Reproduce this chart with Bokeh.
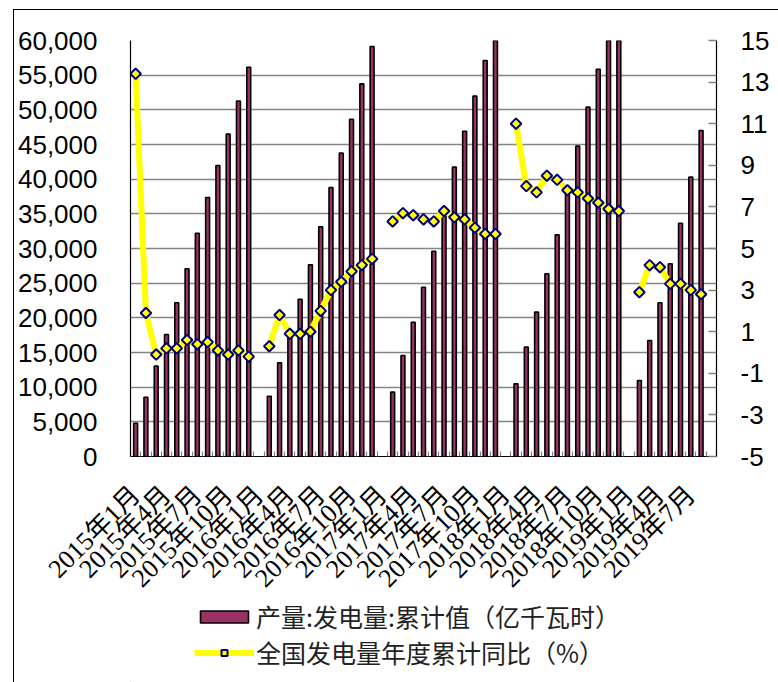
import math
from bokeh.plotting import figure
from bokeh.layouts import column
from bokeh.models import (Range1d, LinearAxis, FixedTicker, Legend, LegendItem,
                          ColumnDataSource, NumeralTickFormatter)
from bokeh.embed import file_html
from bokeh.resources import INLINE

nan = float("nan")

# Categories: monthly, 2015-01 .. 2019-09
months = [f"{y}年{m}月" for y in range(2015, 2020) for m in range(1, 13)][:57]

# 产量:发电量:累计值（亿千瓦时）
output_2015 = [4800, 8550, 13030, 17600, 22170, 27070, 32210, 37360, 41970, 46490, 51250, 56150]
output_2016 = [nan, 8700, 13510, 18000, 22690, 27640, 33120, 38800, 43750, 48650, 53750, 59130]
output_2017 = [nan, 9280, 14570, 19370, 24420, 29610, 35500, 41730, 46920, 51970, 57120, 64200]
output_2018 = [nan, 10480, 15770, 20820, 26350, 31970, 38000, 44760, 50390, 55860, 61600, 67900]
output_2019 = [nan, 10960, 16730, 22170, 27790, 33650, 40290, 47020, nan]

# 全国发电量年度累计同比（%）
growth_2015 = [13.4, 1.9, -0.1, 0.2, 0.2, 0.6, 0.4, 0.5, 0.1, -0.1, 0.1, -0.2]
growth_2016 = [nan, 0.3, 1.8, 0.9, 0.9, 1.0, 2.0, 3.0, 3.4, 3.9, 4.2, 4.5]
growth_2017 = [nan, 6.3, 6.7, 6.6, 6.4, 6.3, 6.8, 6.5, 6.4, 6.0, 5.7, 5.7]
growth_2018 = [nan, 11.0, 8.0, 7.7, 8.5, 8.3, 7.8, 7.7, 7.4, 7.2, 6.9, 6.8]
growth_2019 = [nan, 2.9, 4.2, 4.1, 3.3, 3.3, 3.0, 2.8, nan]

left_ticks = list(range(0, 60001, 5000))
right_ticks = list(range(-5, 16, 2))
label_ticks = list(range(0, 55, 3))

output = output_2015 + output_2016 + output_2017 + output_2018 + output_2019
growth = growth_2015 + growth_2016 + growth_2017 + growth_2018 + growth_2019
xs = list(range(len(months)))

src = ColumnDataSource(dict(x=xs, out=output, g=growth))

FONT_AX = "Liberation Sans, Arial, sans-serif"
FONT_CAT = "Liberation Serif, Noto Sans CJK SC, serif"
FONT_LEG = "Noto Sans CJK SC, sans-serif"

BAR_STYLE = dict(fill_color="#993366", line_color="black", line_width=1.6)
LINE_STYLE = dict(line_color="#FFFF00", line_width=6)
MARK_STYLE = dict(marker="square", angle=math.pi / 4, size=7.5, fill_color="#FFFF00",
                  line_color="#000080", line_width=2)

p = figure(width=764, height=600, output_backend="svg", toolbar_location=None,
           x_range=Range1d(-0.5, len(months) - 0.5), y_range=Range1d(0, 60000),
           x_axis_location=None, y_axis_location=None,
           min_border_left=115, min_border_right=62, min_border_top=30,
           min_border_bottom=154)
p.outline_line_color = None
p.background_fill_color = "white"
p.border_fill_color = "white"
p.extra_y_ranges = {"pct": Range1d(-5, 15)}

# grid
p.xgrid.visible = False
p.ygrid.ticker = FixedTicker(ticks=left_ticks)
p.ygrid.grid_line_color = "#858585"
p.ygrid.grid_line_width = 1.6

# left axis
ya = LinearAxis(ticker=FixedTicker(ticks=left_ticks),
                formatter=NumeralTickFormatter(format="0,0"))
ya.major_tick_in = 0
ya.major_tick_out = 0
ya.minor_tick_in = 0
ya.minor_tick_out = 0
ya.axis_line_color = "black"
ya.axis_line_width = 1.2
ya.major_label_text_font = FONT_AX
ya.major_label_text_font_size = "26px"
ya.major_label_text_color = "black"
ya.major_label_standoff = 33
p.add_layout(ya, "left")

# right axis
ra = LinearAxis(y_range_name="pct", ticker=FixedTicker(ticks=right_ticks))
ra.major_label_overrides = {t: str(t) for t in right_ticks}
ra.major_tick_in = 8
ra.major_tick_out = 0
ra.major_tick_line_color = "#808080"
ra.major_tick_line_width = 1.5
ra.axis_line_color = "black"
ra.axis_line_width = 1.2
ra.major_label_text_font = FONT_AX
ra.major_label_text_font_size = "26px"
ra.major_label_text_color = "black"
ra.major_label_standoff = 24
p.add_layout(ra, "right")

# bottom axis
xa = LinearAxis(ticker=FixedTicker(ticks=label_ticks,
                                   minor_ticks=[i - 0.5 for i in range(len(months) + 1)]))
xa.major_label_overrides = {i: months[i] for i in label_ticks}
xa.major_label_orientation = math.pi / 4
xa.major_tick_in = 0
xa.major_tick_out = 0
xa.minor_tick_in = 5
xa.minor_tick_out = 0
xa.minor_tick_line_color = "#808080"
xa.minor_tick_line_width = 1.2
xa.axis_line_color = "black"
xa.axis_line_width = 1.2
xa.major_label_text_font = FONT_CAT
xa.major_label_text_font_size = "26px"
xa.major_label_text_color = "black"
xa.major_label_standoff = 34
p.add_layout(xa, "below")

p.vbar(x="x", top="out", width=0.38, source=src, **BAR_STYLE)
p.line(x="x", y="g", source=src, y_range_name="pct", **LINE_STYLE)
p.scatter(x="x", y="g", source=src, y_range_name="pct", **MARK_STYLE)

# legend panel (separate figure below the chart); its glyphs sit outside the view
lf = figure(width=764, height=88, output_backend="svg", toolbar_location=None,
            x_range=Range1d(0, 1), y_range=Range1d(0, 1),
            x_axis_location=None, y_axis_location=None,
            min_border_left=0, min_border_right=0, min_border_top=0, min_border_bottom=0)
lf.margin = (-16, 0, 0, 0)
lf.outline_line_color = None
lf.background_fill_alpha = 0
lf.border_fill_alpha = 0
lf.xgrid.visible = False
lf.ygrid.visible = False
dummy = ColumnDataSource(dict(x=[-10.0], y=[-10.0]))
lb = lf.vbar(x="x", top="y", width=0.1, source=dummy, **BAR_STYLE)
ll = lf.line(x="x", y="y", source=dummy, **LINE_STYLE)
lm = lf.scatter(x="x", y="y", source=dummy, **MARK_STYLE)

legend = Legend(items=[
    LegendItem(label="产量:发电量:累计值（亿千瓦时）", renderers=[lb]),
    LegendItem(label="全国发电量年度累计同比（%）", renderers=[ll, lm]),
], location=(64, 12))
legend.label_text_font = FONT_LEG
legend.label_text_font_size = "25px"
legend.label_text_color = "#222222"
legend.glyph_width = 60
legend.glyph_height = 15
legend.label_height = 28
legend.spacing = 0
legend.label_standoff = 2
legend.padding = 0
legend.margin = 0
legend.border_line_color = None
legend.background_fill_alpha = 0
lf.add_layout(legend, "center")

layout = column(p, lf, spacing=0)
layout.margin = (9, 0, 0, 13)
layout.styles = {"border-left": "1px solid #000000", "border-top": "1px solid #000000"}

open("out.html", "w").write(file_html(layout, INLINE))
